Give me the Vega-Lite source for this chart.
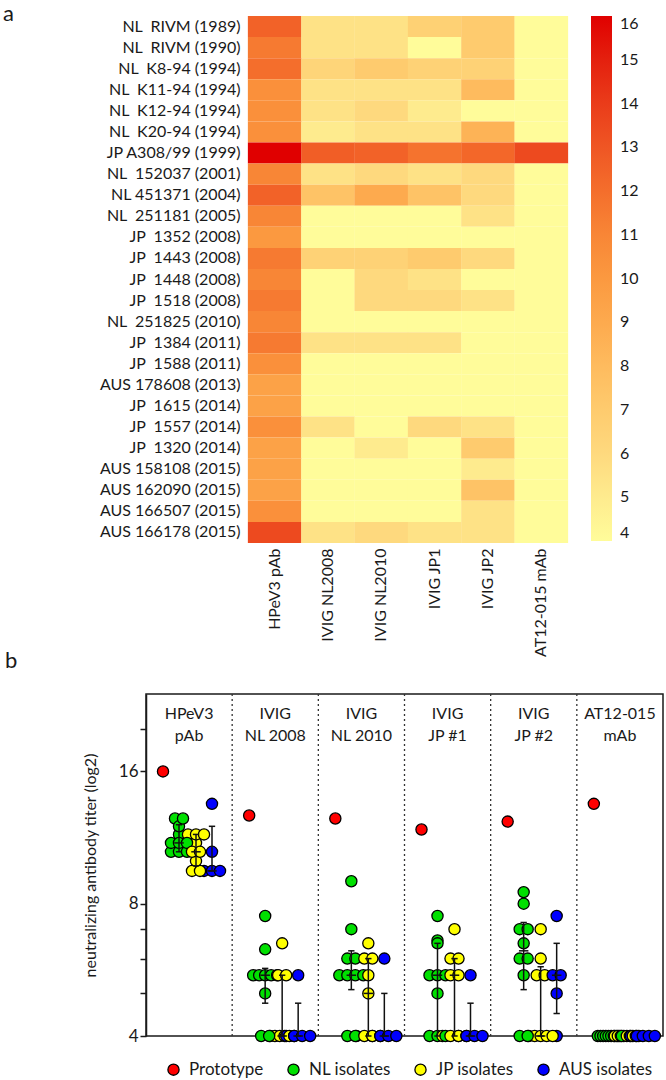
{
  "$schema": "https://vega.github.io/schema/vega-lite/v6.json",
  "padding": {"left": 3, "top": 3, "right": 0, "bottom": 0},
  "background": "white",
  "config": {
    "font": "Lato",
    "view": {"stroke": null},
    "axis": {"labelColor": "#1a1a1a", "titleColor": "#1a1a1a", "labelFont": "Lato", "titleFont": "Lato"},
    "legend": {"labelColor": "#1a1a1a", "labelFont": "Lato"},
    "title": {"font": "Lato", "fontWeight": "normal", "color": "#1a1a1a"}
  },
  "datasets": {
    "titers": [
      {"isolate": "NL\u00a0 RIVM (1989)", "group": "NL isolates", "HPeV3 pAb": 12.5, "IVIG NL2008": 5.5, "IVIG NL2010": 5.5, "IVIG JP1": 6.6, "IVIG JP2": 7.0, "AT12-015 mAb": 4},
      {"isolate": "NL\u00a0 RIVM (1990)", "group": "NL isolates", "HPeV3 pAb": 11.5, "IVIG NL2008": 5.5, "IVIG NL2010": 5.5, "IVIG JP1": 4, "IVIG JP2": 7.0, "AT12-015 mAb": 4},
      {"isolate": "NL\u00a0 K8-94 (1994)", "group": "NL isolates", "HPeV3 pAb": 12, "IVIG NL2008": 6.3, "IVIG NL2010": 7.0, "IVIG JP1": 6.5, "IVIG JP2": 6.5, "AT12-015 mAb": 4},
      {"isolate": "NL\u00a0 K11-94 (1994)\u00a0\u00a0", "group": "NL isolates", "HPeV3 pAb": 10.5, "IVIG NL2008": 5.5, "IVIG NL2010": 5.5, "IVIG JP1": 5.5, "IVIG JP2": 8.0, "AT12-015 mAb": 4},
      {"isolate": "NL\u00a0 K12-94 (1994)", "group": "NL isolates", "HPeV3 pAb": 10.5, "IVIG NL2008": 5.5, "IVIG NL2010": 6.0, "IVIG JP1": 5.0, "IVIG JP2": 4, "AT12-015 mAb": 4},
      {"isolate": "NL\u00a0 K20-94 (1994)\u00a0", "group": "NL isolates", "HPeV3 pAb": 10.5, "IVIG NL2008": 5.0, "IVIG NL2010": 5.5, "IVIG JP1": 5.5, "IVIG JP2": 8.5, "AT12-015 mAb": 4},
      {"isolate": "JP A308/99 (1999)\u00a0\u00a0\u00a0\u00a0\u00a0", "group": "Prototype", "HPeV3 pAb": 16, "IVIG NL2008": 12.7, "IVIG NL2010": 12.5, "IVIG JP1": 11.8, "IVIG JP2": 12.3, "AT12-015 mAb": 13.5},
      {"isolate": "NL\u00a0 152037 (2001)", "group": "NL isolates", "HPeV3 pAb": 11, "IVIG NL2008": 5.5, "IVIG NL2010": 6.0, "IVIG JP1": 5.5, "IVIG JP2": 6.0, "AT12-015 mAb": 4},
      {"isolate": "NL 451371 (2004)", "group": "NL isolates", "HPeV3 pAb": 12.5, "IVIG NL2008": 7.5, "IVIG NL2010": 9.0, "IVIG JP1": 7.5, "IVIG JP2": 6.0, "AT12-015 mAb": 4},
      {"isolate": "NL\u00a0 251181 (2005)", "group": "NL isolates", "HPeV3 pAb": 11, "IVIG NL2008": 4, "IVIG NL2010": 4, "IVIG JP1": 4, "IVIG JP2": 5.5, "AT12-015 mAb": 4},
      {"isolate": "JP\u00a0 1352 (2008)", "group": "JP isolates", "HPeV3 pAb": 10, "IVIG NL2008": 4, "IVIG NL2010": 4, "IVIG JP1": 4, "IVIG JP2": 4, "AT12-015 mAb": 4},
      {"isolate": "JP\u00a0 1443 (2008)", "group": "JP isolates", "HPeV3 pAb": 11.5, "IVIG NL2008": 6.5, "IVIG NL2010": 6.5, "IVIG JP1": 7.0, "IVIG JP2": 6.0, "AT12-015 mAb": 4},
      {"isolate": "JP\u00a0 1448 (2008)", "group": "JP isolates", "HPeV3 pAb": 11, "IVIG NL2008": 4, "IVIG NL2010": 6.0, "IVIG JP1": 5.5, "IVIG JP2": 4, "AT12-015 mAb": 4},
      {"isolate": "JP\u00a0 1518 (2008)", "group": "JP isolates", "HPeV3 pAb": 11.5, "IVIG NL2008": 4, "IVIG NL2010": 6.0, "IVIG JP1": 6.0, "IVIG JP2": 5.5, "AT12-015 mAb": 4},
      {"isolate": "NL\u00a0 251825 (2010)", "group": "NL isolates", "HPeV3 pAb": 11, "IVIG NL2008": 4, "IVIG NL2010": 4, "IVIG JP1": 4, "IVIG JP2": 4, "AT12-015 mAb": 4},
      {"isolate": "JP\u00a0 1384 (2011)", "group": "JP isolates", "HPeV3 pAb": 11.5, "IVIG NL2008": 5.5, "IVIG NL2010": 5.5, "IVIG JP1": 5.5, "IVIG JP2": 4, "AT12-015 mAb": 4},
      {"isolate": "JP\u00a0 1588 (2011)", "group": "JP isolates", "HPeV3 pAb": 10.5, "IVIG NL2008": 4, "IVIG NL2010": 4, "IVIG JP1": 4, "IVIG JP2": 4, "AT12-015 mAb": 4},
      {"isolate": "AUS 178608 (2013)", "group": "AUS isolates", "HPeV3 pAb": 9.5, "IVIG NL2008": 4, "IVIG NL2010": 4, "IVIG JP1": 4, "IVIG JP2": 4, "AT12-015 mAb": 4},
      {"isolate": "JP\u00a0 1615 (2014)", "group": "JP isolates", "HPeV3 pAb": 9.5, "IVIG NL2008": 4, "IVIG NL2010": 4, "IVIG JP1": 4, "IVIG JP2": 4, "AT12-015 mAb": 4},
      {"isolate": "JP\u00a0 1557 (2014)", "group": "JP isolates", "HPeV3 pAb": 10.5, "IVIG NL2008": 5.5, "IVIG NL2010": 4, "IVIG JP1": 6.0, "IVIG JP2": 5.5, "AT12-015 mAb": 4},
      {"isolate": "JP\u00a0 1320 (2014)", "group": "JP isolates", "HPeV3 pAb": 9.5, "IVIG NL2008": 4, "IVIG NL2010": 5.0, "IVIG JP1": 4, "IVIG JP2": 7.0, "AT12-015 mAb": 4},
      {"isolate": "AUS 158108 (2015)", "group": "AUS isolates", "HPeV3 pAb": 9.5, "IVIG NL2008": 4, "IVIG NL2010": 4, "IVIG JP1": 4, "IVIG JP2": 5.0, "AT12-015 mAb": 4},
      {"isolate": "AUS 162090 (2015)", "group": "AUS isolates", "HPeV3 pAb": 9.5, "IVIG NL2008": 4, "IVIG NL2010": 4, "IVIG JP1": 4, "IVIG JP2": 7.5, "AT12-015 mAb": 4},
      {"isolate": "AUS 166507 (2015)", "group": "AUS isolates", "HPeV3 pAb": 10.5, "IVIG NL2008": 4, "IVIG NL2010": 4, "IVIG JP1": 4, "IVIG JP2": 5.5, "AT12-015 mAb": 4},
      {"isolate": "AUS 166178 (2015)", "group": "AUS isolates", "HPeV3 pAb": 13.5, "IVIG NL2008": 5.5, "IVIG NL2010": 6.0, "IVIG JP1": 5.5, "IVIG JP2": 5.5, "AT12-015 mAb": 4}
    ],
    "panels": [
      {"ab": "HPeV3 pAb", "header": ["HPeV3", "pAb"]},
      {"ab": "IVIG NL2008", "header": ["IVIG", "NL 2008"]},
      {"ab": "IVIG NL2010", "header": ["IVIG", "NL 2010"]},
      {"ab": "IVIG JP1", "header": ["IVIG", "JP #1"]},
      {"ab": "IVIG JP2", "header": ["IVIG", "JP #2"]},
      {"ab": "AT12-015 mAb", "header": ["AT12-015", "mAb"]}
    ],
    "iqr": [
      {"ab": "HPeV3 pAb", "group": "NL isolates", "q1": 10.5, "med": 11, "q3": 12.1},
      {"ab": "HPeV3 pAb", "group": "JP isolates", "q1": 9.75, "med": 10.5, "q3": 11.5},
      {"ab": "HPeV3 pAb", "group": "AUS isolates", "q1": 9.5, "med": 9.5, "q3": 12},
      {"ab": "IVIG NL2008", "group": "NL isolates", "q1": 4.75, "med": 5.5, "q3": 5.7},
      {"ab": "IVIG NL2008", "group": "JP isolates", "q1": 4, "med": 4, "q3": 5.5},
      {"ab": "IVIG NL2008", "group": "AUS isolates", "q1": 4, "med": 4, "q3": 4.75},
      {"ab": "IVIG NL2010", "group": "NL isolates", "q1": 5.1, "med": 5.5, "q3": 6.25},
      {"ab": "IVIG NL2010", "group": "JP isolates", "q1": 4, "med": 5.0, "q3": 6.0},
      {"ab": "IVIG NL2010", "group": "AUS isolates", "q1": 4, "med": 4, "q3": 5.0},
      {"ab": "IVIG JP1", "group": "NL isolates", "q1": 4, "med": 5.5, "q3": 6.5},
      {"ab": "IVIG JP1", "group": "JP isolates", "q1": 4, "med": 5.5, "q3": 6.0},
      {"ab": "IVIG JP1", "group": "AUS isolates", "q1": 4, "med": 4, "q3": 4.75},
      {"ab": "IVIG JP2", "group": "NL isolates", "q1": 5.1, "med": 6.25, "q3": 7.25},
      {"ab": "IVIG JP2", "group": "JP isolates", "q1": 4, "med": 4, "q3": 5.75},
      {"ab": "IVIG JP2", "group": "AUS isolates", "q1": 4.5, "med": 5.5, "q3": 6.5}
    ]
  },
  "concat": [
    {
      "width": 422,
      "height": 527,
      "title": {"text": "a", "anchor": "start", "frame": "group", "fontSize": 22, "baseline": "alphabetic", "offset": -27, "dx": -143},
      "data": {"name": "titers"},
      "transform": [{"fold": ["HPeV3 pAb", "IVIG NL2008", "IVIG NL2010", "IVIG JP1", "IVIG JP2", "AT12-015 mAb"], "as": ["ab", "titer"]}],
      "mark": {"type": "rect", "width": 53.6, "height": {"band": 1}},
      "encoding": {
        "y": {"field": "isolate", "type": "nominal", "sort": null, "scale": {"type": "band", "paddingInner": 0, "paddingOuter": 0}, "axis": {"title": null, "domain": false, "ticks": false, "labelFontSize": 16, "labelPadding": 8, "offset": -102}},
        "x": {"field": "ab", "type": "nominal", "sort": ["HPeV3 pAb", "IVIG NL2008", "IVIG NL2010", "IVIG JP1", "IVIG JP2", "AT12-015 mAb"], "scale": {"type": "band", "range": [102, 422], "paddingInner": 0, "paddingOuter": 0}, "axis": {"title": null, "domain": false, "ticks": false, "labelAngle": -90, "labelFontSize": 16, "labelPadding": 5}},
        "color": {
          "field": "titer", "type": "quantitative",
          "scale": {"domain": [4, 5, 6, 7, 8, 9, 10, 11, 12, 13, 14, 15, 16], "range": ["#FFFC9A", "#FEEB8E", "#FED97E", "#FECB6E", "#FEBB5E", "#FDAA4E", "#FB9940", "#F88636", "#F46E2C", "#EF5624", "#EA3C1A", "#E4200E", "#E00000"]},
          "legend": {"title": null, "direction": "vertical", "gradientLength": 525, "gradientThickness": 21, "values": [4, 5, 6, 7, 8, 9, 10, 11, 12, 13, 14, 15, 16], "labelFontSize": 16, "labelOffset": 8, "offset": 23, "padding": 0, "gradientStrokeWidth": 0, "labelOverlap": false}
        }
      }
    },
    {
      "width": 517,
      "height": 342,
      "title": {"text": "b", "anchor": "start", "frame": "group", "fontSize": 22, "baseline": "alphabetic", "offset": 3, "dx": -141},
      "view": {"stroke": "#1a1a1a", "strokeWidth": 1.5},
      "layer": [
        {
          "data": {"name": "panels"},
          "transform": [{"filter": "datum.ab != 'HPeV3 pAb'"}],
          "mark": {"type": "rule", "strokeDash": [2, 3], "strokeWidth": 1.3, "color": "#333333"},
          "encoding": {
            "x": {"field": "ab", "type": "nominal", "bandPosition": 0, "sort": ["HPeV3 pAb", "IVIG NL2008", "IVIG NL2010", "IVIG JP1", "IVIG JP2", "AT12-015 mAb"], "scale": {"type": "band", "paddingInner": 0, "paddingOuter": 0}, "axis": null}
          }
        },
        {
          "data": {"name": "panels"},
          "mark": {"type": "text", "fontSize": 16, "lineHeight": 22, "baseline": "alphabetic", "dy": 25, "color": "#1a1a1a"},
          "encoding": {
            "x": {"field": "ab", "type": "nominal", "sort": ["HPeV3 pAb", "IVIG NL2008", "IVIG NL2010", "IVIG JP1", "IVIG JP2", "AT12-015 mAb"], "scale": {"type": "band", "paddingInner": 0, "paddingOuter": 0}, "axis": null},
            "y": {
              "datum": 24, "type": "quantitative",
              "scale": {"type": "log", "base": 2, "domain": [4, 24], "nice": false},
              "axis": {"values": [4, 5, 6, 7, 8, 16, 20], "labelExpr": "datum.value == 4 || datum.value == 8 || datum.value == 16 ? datum.value : ''", "title": "neutralizing antibody titer (log2)", "titleFontSize": 16, "titleFontWeight": "normal", "labelFontSize": 17, "tickSize": 6, "tickWidth": 1.5, "domainWidth": 1.5, "domainColor": "#1a1a1a", "tickColor": "#1a1a1a", "grid": false, "labelPadding": 2, "titlePadding": 20, "labelOverlap": false, "labelFlush": false}
            },
            "text": {"field": "header"}
          }
        },
        {
          "data": {"name": "titers"},
          "transform": [
            {"fold": ["HPeV3 pAb", "IVIG NL2008", "IVIG NL2010", "IVIG JP1", "IVIG JP2", "AT12-015 mAb"], "as": ["ab", "titer"]},
            {"window": [{"op": "row_number", "as": "rank"}, {"op": "count", "as": "n"}], "groupby": ["ab", "group", "titer"], "frame": [null, null]},
            {"calculate": "(datum.group == 'Prototype' ? 17 : datum.group == 'NL isolates' ? 33 : datum.group == 'JP isolates' ? 50 : 66) + (datum.rank - (datum.n + 1) / 2) * min(8, 24 / max(1, datum.n - 1))", "as": "xo"}
          ],
          "mark": {"type": "point", "filled": true, "stroke": "black", "strokeWidth": 1.3, "size": 125, "opacity": 1},
          "encoding": {
            "x": {"field": "ab", "type": "nominal", "sort": ["HPeV3 pAb", "IVIG NL2008", "IVIG NL2010", "IVIG JP1", "IVIG JP2", "AT12-015 mAb"], "scale": {"type": "band", "paddingInner": 0, "paddingOuter": 0}, "axis": null},
            "xOffset": {"field": "xo", "type": "quantitative", "scale": {"domain": [0, 86.17], "range": [0, 86.17], "nice": false, "zero": false}},
            "y": {"field": "titer", "type": "quantitative"},
            "color": {
              "field": "group", "type": "nominal",
              "scale": {"domain": ["Prototype", "NL isolates", "JP isolates", "AUS isolates"], "range": ["#FF0000", "#00E000", "#FFFF00", "#0000FF"]},
              "legend": {"title": null, "orient": "none", "legendX": 19, "legendY": 367, "direction": "horizontal", "labelFontSize": 17, "symbolSize": 125, "symbolType": "circle", "symbolStrokeColor": "black", "symbolStrokeWidth": 1.3, "symbolOpacity": 1, "columnPadding": 21, "labelOffset": 7}
            }
          }
        },
        {
          "data": {"name": "iqr"},
          "transform": [{"calculate": "datum.group == 'NL isolates' ? 33 : datum.group == 'JP isolates' ? 50 : 66", "as": "xo"}],
          "mark": {"type": "rule", "strokeWidth": 1.5, "color": "#111111"},
          "encoding": {
            "x": {"field": "ab", "type": "nominal", "sort": ["HPeV3 pAb", "IVIG NL2008", "IVIG NL2010", "IVIG JP1", "IVIG JP2", "AT12-015 mAb"], "scale": {"type": "band", "paddingInner": 0, "paddingOuter": 0}, "axis": null},
            "xOffset": {"field": "xo", "type": "quantitative"},
            "y": {"field": "q1", "type": "quantitative"},
            "y2": {"field": "q3"}
          }
        },
        {
          "data": {"name": "iqr"},
          "transform": [
            {"calculate": "datum.group == 'NL isolates' ? 33 : datum.group == 'JP isolates' ? 50 : 66", "as": "xo"},
            {"fold": ["q1", "q3"], "as": ["stat", "v"]}
          ],
          "mark": {"type": "point", "shape": "stroke", "filled": false, "stroke": "#111111", "strokeWidth": 1.5, "size": 40, "opacity": 1},
          "encoding": {
            "x": {"field": "ab", "type": "nominal", "sort": ["HPeV3 pAb", "IVIG NL2008", "IVIG NL2010", "IVIG JP1", "IVIG JP2", "AT12-015 mAb"], "scale": {"type": "band", "paddingInner": 0, "paddingOuter": 0}, "axis": null},
            "xOffset": {"field": "xo", "type": "quantitative"},
            "y": {"field": "v", "type": "quantitative"}
          }
        },
        {
          "data": {"name": "iqr"},
          "transform": [{"calculate": "datum.group == 'NL isolates' ? 33 : datum.group == 'JP isolates' ? 50 : 66", "as": "xo"}],
          "mark": {"type": "point", "shape": "stroke", "filled": false, "stroke": "#111111", "strokeWidth": 1.5, "size": 90, "opacity": 1},
          "encoding": {
            "x": {"field": "ab", "type": "nominal", "sort": ["HPeV3 pAb", "IVIG NL2008", "IVIG NL2010", "IVIG JP1", "IVIG JP2", "AT12-015 mAb"], "scale": {"type": "band", "paddingInner": 0, "paddingOuter": 0}, "axis": null},
            "xOffset": {"field": "xo", "type": "quantitative"},
            "y": {"field": "med", "type": "quantitative"}
          }
        }
      ]
    }
  ],
  "columns": 1,
  "align": "none",
  "spacing": -8,
  "resolve": {"scale": {"color": "independent", "x": "independent", "y": "independent"}, "legend": {"color": "independent"}}
}
